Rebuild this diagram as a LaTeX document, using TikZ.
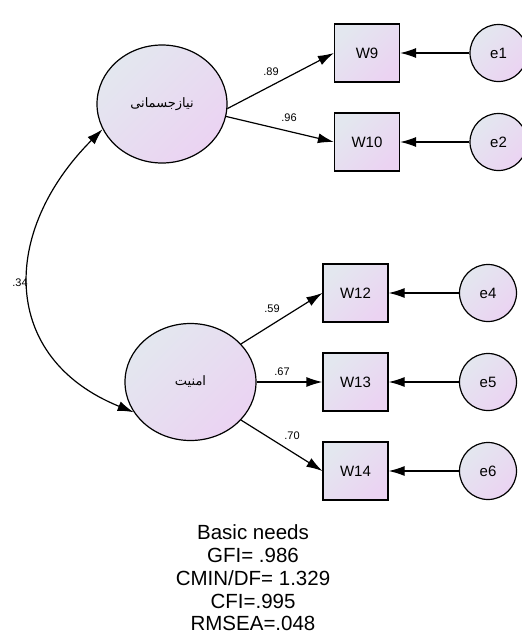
\documentclass[tikz,border=0pt]{standalone}
\usepackage{fontspec}
\setmainfont{Liberation Sans}
\newfontfamily\arabicfont[Script=Arabic]{DejaVu Sans}
\TeXXeTstate=1
\usetikzlibrary{shapes.geometric,arrows.meta}
\definecolor{shadetop}{HTML}{E3E7EF}
\definecolor{shadebot}{HTML}{EBD3F2}
\tikzset{
	latent/.style={ellipse,draw,line width=1.2pt,inner sep=0pt,top color=shadetop,bottom color=shadebot,shading angle=45,font=\arabicfont\fontsize{13}{15}\selectfont},
	obs/.style={rectangle,draw,line width=1.2pt,minimum width=65pt,minimum height=58pt,inner sep=0pt,top color=shadetop,bottom color=shadebot,shading angle=45,font=\fontsize{15}{18}\selectfont},
	err/.style={circle,draw,line width=1.2pt,minimum size=57pt,inner sep=0pt,top color=shadetop,bottom color=shadebot,shading angle=45,font=\fontsize{15}{18}\selectfont},
	load/.style={-{Latex[length=16pt,width=10pt]},line width=1.2pt},
	coef/.style={font=\fontsize{11}{13}\selectfont,inner sep=0pt}
}
\begin{document}
\begin{tikzpicture}[x=1pt,y=1pt]
		\useasboundingbox (0,0) rectangle (522,-635);
		\node[latent,minimum width=130pt,minimum height=118pt] (l1) at (162,-104) {\beginR نیازجسمانی\endR};
		\node[latent,minimum width=131pt,minimum height=117pt] (l2) at (190.5,-382) {\beginR امنیت\endR};
		\node[obs] (w9) at (367,-53) {W9};
		\node[obs] (w10) at (367,-142) {W10};
		\node[obs] (w12) at (355.5,-293) {W12};
		\node[obs] (w13) at (355.5,-382) {W13};
		\node[obs] (w14) at (355.5,-471) {W14};
		\node[err] (e1) at (498.5,-53) {e1};
		\node[err] (e2) at (498.5,-142) {e2};
		\node[err] (e4) at (488,-293) {e4};
		\node[err] (e5) at (488,-382) {e5};
		\node[err] (e6) at (488,-471) {e6};
		\draw[load] (l1.-4) -- (w9.west);
		\draw[load] (l1.-11) -- (w10.west);
		\draw[load] (l2.37) -- (w12.west);
		\draw[load] (l2.east) -- (w13.west);
		\draw[load] (l2.-37) -- (w14.west);
		\draw[load] (e1) -- (w9);
		\draw[load] (e2) -- (w10);
		\draw[load] (e4) -- (w12);
		\draw[load] (e5) -- (w13);
		\draw[load] (e6) -- (w14);
		\draw[{Latex[length=16pt,width=10pt]}-{Latex[length=16pt,width=10pt]},line width=1.2pt] (l2.208) to[out=158,in=225,looseness=1.3] (l1.203);
		\node[coef] (c89) at (271,-72) {.89};
		\node[coef] (c96) at (289,-118) {.96};
		\node[coef] (c59) at (272,-309) {.59};
		\node[coef] (c67) at (282,-372) {.67};
		\node[coef] (c70) at (292,-436) {.70};
		\node[coef] (c34) at (20,-283) {.34};
		\node[align=center,font=\fontsize{20.5}{22.7}\selectfont] (fit) at (253,-578) {Basic needs\\GFI= .986\\CMIN/DF= 1.329\\CFI=.995\\RMSEA=.048};
		\end{tikzpicture}
\end{document}
